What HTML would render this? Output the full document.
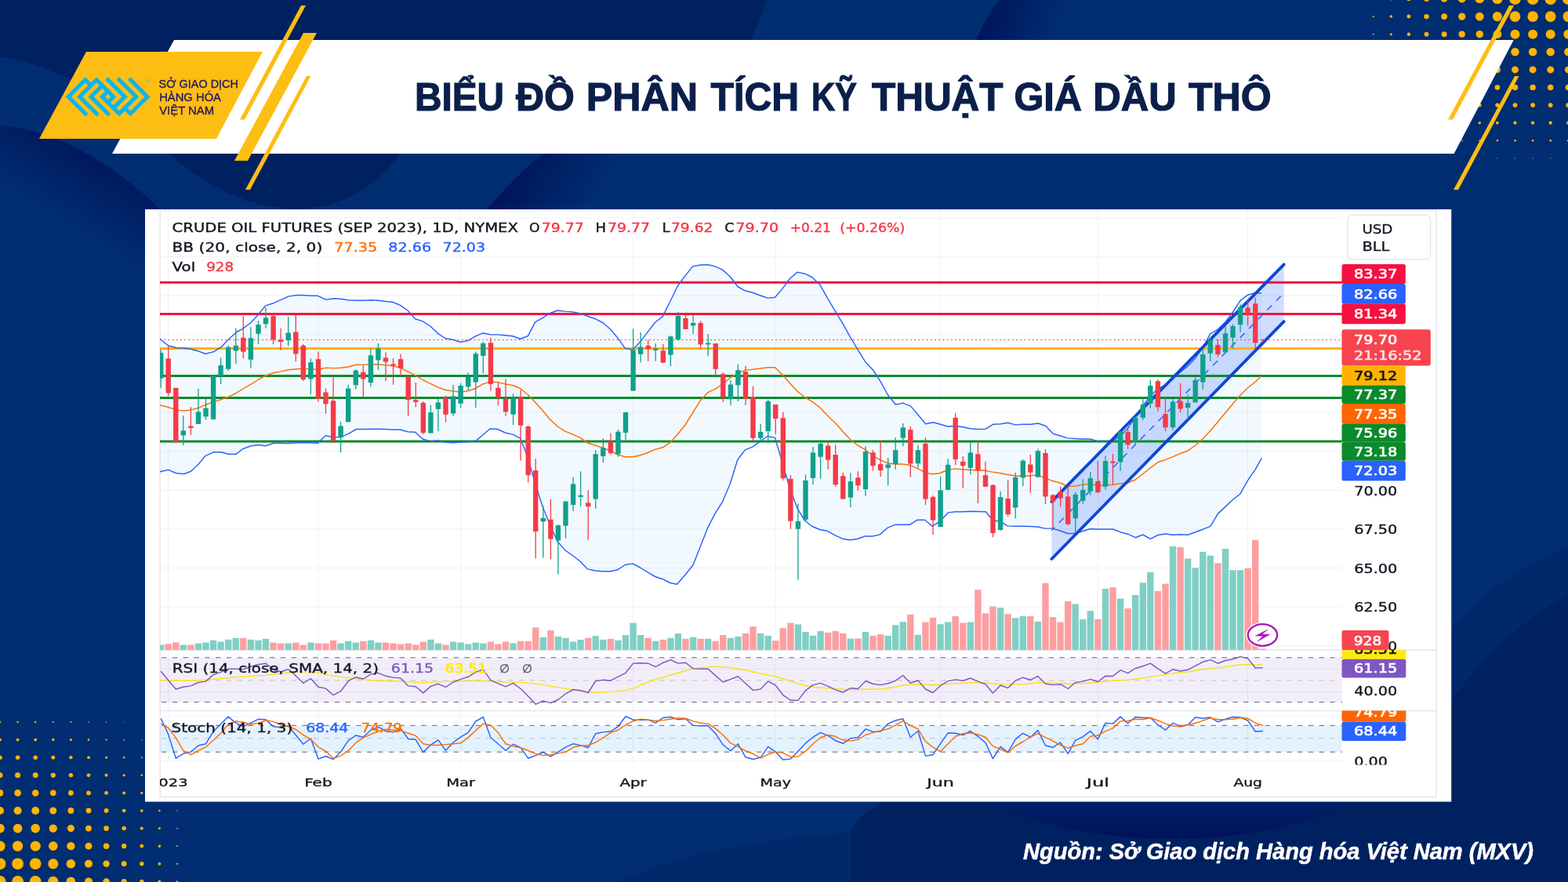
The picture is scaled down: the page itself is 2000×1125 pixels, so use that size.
<!DOCTYPE html>
<html lang="vi">
<head>
<meta charset="utf-8">
<title>Biểu đồ phân tích kỹ thuật giá dầu thô</title>
<style>
html,body{margin:0;padding:0;background:#012d72;}
body{width:2000px;height:1125px;overflow:hidden;}
svg{display:block;}
text{white-space:pre;}
.c{font-family:"DejaVu Sans","Liberation Sans",sans-serif;}
.l{font-family:"Liberation Sans","DejaVu Sans",sans-serif;}
</style>
</head>
<body>
<svg width="2000" height="1125" viewBox="0 0 2000 1125">
<rect width="2000" height="1125" fill="#012d72"/>
<defs>
<linearGradient id="g1" gradientUnits="userSpaceOnUse" x1="140" y1="195" x2="85" y2="285"><stop offset="0" stop-color="#00155c"/><stop offset="1" stop-color="#012d72"/></linearGradient>
<linearGradient id="g2" gradientUnits="userSpaceOnUse" x1="650" y1="225" x2="745" y2="280"><stop offset="0" stop-color="#00155c"/><stop offset="1" stop-color="#012d72"/></linearGradient>
<linearGradient id="g2b" gradientUnits="userSpaceOnUse" x1="1258" y1="20" x2="1345" y2="50"><stop offset="0" stop-color="#00155c"/><stop offset="1" stop-color="#012d72"/></linearGradient>
<linearGradient id="g3" gradientUnits="userSpaceOnUse" x1="0" y1="1072" x2="0" y2="985"><stop offset="0" stop-color="#00115a"/><stop offset="1" stop-color="#012d72"/></linearGradient>
<linearGradient id="g4" gradientUnits="userSpaceOnUse" x1="1900" y1="760" x2="1960" y2="900"><stop offset="0" stop-color="#001a5e"/><stop offset="1" stop-color="#00215f"/></linearGradient>
<clipPath id="cp"><rect x="204" y="268" width="1507.5" height="708"/></clipPath>
<clipPath id="cpa"><rect x="204" y="268" width="1628" height="561.2"/></clipPath>
<clipPath id="cpr"><rect x="204" y="829.2" width="1628" height="77.4"/></clipPath>
<clipPath id="cps"><rect x="204" y="906.6" width="1628" height="69"/></clipPath>
<clipPath id="cpt"><rect x="204" y="976" width="1628" height="40"/></clipPath>
</defs>
<path d="M0,0 H978 C972,18 966,34 958,51 C840,130 640,120 510,196 C470,250 420,268 372,267 C300,262 250,225 215,196 C150,130 80,85 0,72 Z" fill="#00215f"/>
<path d="M0,160 C60,165 130,195 205,268 L205,420 L0,420 Z" fill="url(#g1)"/>
<path d="M618,270 C650,235 670,212 695,196 L900,196 L900,270 Z" fill="url(#g2)"/>
<path d="M1245,51 C1255,30 1262,15 1275,0 L1500,0 L1500,51 Z" fill="url(#g2b)"/>
<path d="M2000,700 C1940,720 1890,760 1851,800 L1851,1022 L1130,1022 C1100,1035 1090,1050 1085,1062 C960,1070 850,1095 790,1125 L2000,1125 Z" fill="#01286a"/>
<path d="M2000,760 C1940,790 1890,840 1851,895 L1851,1022 L1130,1022 C1100,1035 1090,1050 1085,1062 L1085,1125 L2000,1125 Z" fill="#00215f"/>
<path d="M1265,1022 C1380,1086 1610,1086 1725,1022 Z" fill="url(#g3)"/>
<g fill="#ffb400"><circle cx="2000.3" cy="-1.5" r="7.40"/><circle cx="2000.3" cy="21.1" r="6.81"/><circle cx="2000.3" cy="43.7" r="6.04"/><circle cx="2000.3" cy="66.3" r="5.27"/><circle cx="2000.3" cy="88.9" r="4.49"/><circle cx="2000.3" cy="111.5" r="3.72"/><circle cx="2000.3" cy="134.1" r="2.94"/><circle cx="2000.3" cy="156.7" r="2.17"/><circle cx="2000.3" cy="179.3" r="1.39"/><circle cx="2000.3" cy="201.9" r="0.62"/><circle cx="1977.7" cy="-1.5" r="7.40"/><circle cx="1977.7" cy="21.1" r="6.81"/><circle cx="1977.7" cy="43.7" r="6.04"/><circle cx="1977.7" cy="66.3" r="5.27"/><circle cx="1977.7" cy="88.9" r="4.49"/><circle cx="1977.7" cy="111.5" r="3.72"/><circle cx="1977.7" cy="134.1" r="2.94"/><circle cx="1977.7" cy="156.7" r="2.17"/><circle cx="1977.7" cy="179.3" r="1.39"/><circle cx="1977.7" cy="201.9" r="0.62"/><circle cx="1955.1" cy="-1.5" r="7.40"/><circle cx="1955.1" cy="21.1" r="6.81"/><circle cx="1955.1" cy="43.7" r="6.04"/><circle cx="1955.1" cy="66.3" r="5.27"/><circle cx="1955.1" cy="88.9" r="4.49"/><circle cx="1955.1" cy="111.5" r="3.72"/><circle cx="1955.1" cy="134.1" r="2.94"/><circle cx="1955.1" cy="156.7" r="2.17"/><circle cx="1955.1" cy="179.3" r="1.39"/><circle cx="1955.1" cy="201.9" r="0.62"/><circle cx="1932.5" cy="-1.5" r="7.38"/><circle cx="1932.5" cy="21.1" r="6.80"/><circle cx="1932.5" cy="43.7" r="6.03"/><circle cx="1932.5" cy="66.3" r="5.25"/><circle cx="1932.5" cy="88.9" r="4.48"/><circle cx="1932.5" cy="111.5" r="3.71"/><circle cx="1932.5" cy="134.1" r="2.94"/><circle cx="1932.5" cy="156.7" r="2.16"/><circle cx="1932.5" cy="179.3" r="1.39"/><circle cx="1932.5" cy="201.9" r="0.62"/><circle cx="1909.9" cy="-1.5" r="6.60"/><circle cx="1909.9" cy="21.1" r="6.08"/><circle cx="1909.9" cy="43.7" r="5.39"/><circle cx="1909.9" cy="66.3" r="4.70"/><circle cx="1909.9" cy="88.9" r="4.01"/><circle cx="1909.9" cy="111.5" r="3.32"/><circle cx="1909.9" cy="134.1" r="2.63"/><circle cx="1909.9" cy="156.7" r="1.93"/><circle cx="1909.9" cy="179.3" r="1.24"/><circle cx="1909.9" cy="201.9" r="0.55"/><circle cx="1887.3" cy="-1.5" r="5.82"/><circle cx="1887.3" cy="21.1" r="5.36"/><circle cx="1887.3" cy="43.7" r="4.75"/><circle cx="1887.3" cy="66.3" r="4.14"/><circle cx="1887.3" cy="88.9" r="3.53"/><circle cx="1887.3" cy="111.5" r="2.92"/><circle cx="1887.3" cy="134.1" r="2.31"/><circle cx="1887.3" cy="156.7" r="1.71"/><circle cx="1887.3" cy="179.3" r="1.10"/><circle cx="1887.3" cy="201.9" r="0.49"/><circle cx="1864.7" cy="-1.5" r="5.04"/><circle cx="1864.7" cy="21.1" r="4.64"/><circle cx="1864.7" cy="43.7" r="4.11"/><circle cx="1864.7" cy="66.3" r="3.59"/><circle cx="1864.7" cy="88.9" r="3.06"/><circle cx="1864.7" cy="111.5" r="2.53"/><circle cx="1864.7" cy="134.1" r="2.00"/><circle cx="1864.7" cy="156.7" r="1.48"/><circle cx="1864.7" cy="179.3" r="0.95"/><circle cx="1864.7" cy="201.9" r="0.42"/><circle cx="1842.1" cy="-1.5" r="4.26"/><circle cx="1842.1" cy="21.1" r="3.92"/><circle cx="1842.1" cy="43.7" r="3.47"/><circle cx="1842.1" cy="66.3" r="3.03"/><circle cx="1842.1" cy="88.9" r="2.58"/><circle cx="1842.1" cy="111.5" r="2.14"/><circle cx="1842.1" cy="134.1" r="1.69"/><circle cx="1842.1" cy="156.7" r="1.25"/><circle cx="1842.1" cy="179.3" r="0.80"/><circle cx="1842.1" cy="201.9" r="0.36"/><circle cx="1819.5" cy="-1.5" r="3.48"/><circle cx="1819.5" cy="21.1" r="3.20"/><circle cx="1819.5" cy="43.7" r="2.84"/><circle cx="1819.5" cy="66.3" r="2.47"/><circle cx="1819.5" cy="88.9" r="2.11"/><circle cx="1819.5" cy="111.5" r="1.75"/><circle cx="1819.5" cy="134.1" r="1.38"/><circle cx="1819.5" cy="156.7" r="1.02"/><circle cx="1819.5" cy="179.3" r="0.65"/><circle cx="1796.9" cy="-1.5" r="2.69"/><circle cx="1796.9" cy="21.1" r="2.48"/><circle cx="1796.9" cy="43.7" r="2.20"/><circle cx="1796.9" cy="66.3" r="1.92"/><circle cx="1796.9" cy="88.9" r="1.63"/><circle cx="1796.9" cy="111.5" r="1.35"/><circle cx="1796.9" cy="134.1" r="1.07"/><circle cx="1796.9" cy="156.7" r="0.79"/><circle cx="1796.9" cy="179.3" r="0.51"/><circle cx="1774.3" cy="-1.5" r="1.91"/><circle cx="1774.3" cy="21.1" r="1.76"/><circle cx="1774.3" cy="43.7" r="1.56"/><circle cx="1774.3" cy="66.3" r="1.36"/><circle cx="1774.3" cy="88.9" r="1.16"/><circle cx="1774.3" cy="111.5" r="0.96"/><circle cx="1774.3" cy="134.1" r="0.76"/><circle cx="1774.3" cy="156.7" r="0.56"/><circle cx="1774.3" cy="179.3" r="0.36"/><circle cx="1751.7" cy="-1.5" r="1.13"/><circle cx="1751.7" cy="21.1" r="1.04"/><circle cx="1751.7" cy="43.7" r="0.92"/><circle cx="1751.7" cy="66.3" r="0.80"/><circle cx="1751.7" cy="88.9" r="0.69"/><circle cx="1751.7" cy="111.5" r="0.57"/><circle cx="1751.7" cy="134.1" r="0.45"/><circle cx="1751.7" cy="156.7" r="0.33"/><circle cx="1729.1" cy="-1.5" r="0.35"/><circle cx="1729.1" cy="21.1" r="0.32"/><circle cx="0" cy="1124.4" r="7.40"/><circle cx="0" cy="1101.8" r="7.39"/><circle cx="0" cy="1079.2" r="6.62"/><circle cx="0" cy="1056.6" r="5.84"/><circle cx="0" cy="1034" r="5.07"/><circle cx="0" cy="1011.4" r="4.30"/><circle cx="0" cy="988.8" r="3.52"/><circle cx="0" cy="966.2" r="2.75"/><circle cx="0" cy="943.6" r="1.97"/><circle cx="0" cy="921" r="1.20"/><circle cx="0" cy="898.4" r="0.42"/><circle cx="22.6" cy="1124.4" r="7.40"/><circle cx="22.6" cy="1101.8" r="7.39"/><circle cx="22.6" cy="1079.2" r="6.62"/><circle cx="22.6" cy="1056.6" r="5.84"/><circle cx="22.6" cy="1034" r="5.07"/><circle cx="22.6" cy="1011.4" r="4.30"/><circle cx="22.6" cy="988.8" r="3.52"/><circle cx="22.6" cy="966.2" r="2.75"/><circle cx="22.6" cy="943.6" r="1.97"/><circle cx="22.6" cy="921" r="1.20"/><circle cx="22.6" cy="898.4" r="0.42"/><circle cx="45.2" cy="1124.4" r="7.32"/><circle cx="45.2" cy="1101.8" r="7.32"/><circle cx="45.2" cy="1079.2" r="6.55"/><circle cx="45.2" cy="1056.6" r="5.79"/><circle cx="45.2" cy="1034" r="5.02"/><circle cx="45.2" cy="1011.4" r="4.25"/><circle cx="45.2" cy="988.8" r="3.49"/><circle cx="45.2" cy="966.2" r="2.72"/><circle cx="45.2" cy="943.6" r="1.95"/><circle cx="45.2" cy="921" r="1.19"/><circle cx="45.2" cy="898.4" r="0.42"/><circle cx="67.8" cy="1124.4" r="6.55"/><circle cx="67.8" cy="1101.8" r="6.54"/><circle cx="67.8" cy="1079.2" r="5.86"/><circle cx="67.8" cy="1056.6" r="5.17"/><circle cx="67.8" cy="1034" r="4.49"/><circle cx="67.8" cy="1011.4" r="3.80"/><circle cx="67.8" cy="988.8" r="3.12"/><circle cx="67.8" cy="966.2" r="2.43"/><circle cx="67.8" cy="943.6" r="1.75"/><circle cx="67.8" cy="921" r="1.06"/><circle cx="67.8" cy="898.4" r="0.38"/><circle cx="90.4" cy="1124.4" r="5.78"/><circle cx="90.4" cy="1101.8" r="5.77"/><circle cx="90.4" cy="1079.2" r="5.17"/><circle cx="90.4" cy="1056.6" r="4.56"/><circle cx="90.4" cy="1034" r="3.96"/><circle cx="90.4" cy="1011.4" r="3.35"/><circle cx="90.4" cy="988.8" r="2.75"/><circle cx="90.4" cy="966.2" r="2.14"/><circle cx="90.4" cy="943.6" r="1.54"/><circle cx="90.4" cy="921" r="0.94"/><circle cx="90.4" cy="898.4" r="0.33"/><circle cx="113" cy="1124.4" r="5.00"/><circle cx="113" cy="1101.8" r="5.00"/><circle cx="113" cy="1079.2" r="4.47"/><circle cx="113" cy="1056.6" r="3.95"/><circle cx="113" cy="1034" r="3.43"/><circle cx="113" cy="1011.4" r="2.90"/><circle cx="113" cy="988.8" r="2.38"/><circle cx="113" cy="966.2" r="1.86"/><circle cx="113" cy="943.6" r="1.33"/><circle cx="113" cy="921" r="0.81"/><circle cx="135.6" cy="1124.4" r="4.23"/><circle cx="135.6" cy="1101.8" r="4.22"/><circle cx="135.6" cy="1079.2" r="3.78"/><circle cx="135.6" cy="1056.6" r="3.34"/><circle cx="135.6" cy="1034" r="2.90"/><circle cx="135.6" cy="1011.4" r="2.45"/><circle cx="135.6" cy="988.8" r="2.01"/><circle cx="135.6" cy="966.2" r="1.57"/><circle cx="135.6" cy="943.6" r="1.13"/><circle cx="135.6" cy="921" r="0.69"/><circle cx="158.2" cy="1124.4" r="3.45"/><circle cx="158.2" cy="1101.8" r="3.45"/><circle cx="158.2" cy="1079.2" r="3.09"/><circle cx="158.2" cy="1056.6" r="2.73"/><circle cx="158.2" cy="1034" r="2.37"/><circle cx="158.2" cy="1011.4" r="2.00"/><circle cx="158.2" cy="988.8" r="1.64"/><circle cx="158.2" cy="966.2" r="1.28"/><circle cx="158.2" cy="943.6" r="0.92"/><circle cx="158.2" cy="921" r="0.56"/><circle cx="180.8" cy="1124.4" r="2.68"/><circle cx="180.8" cy="1101.8" r="2.68"/><circle cx="180.8" cy="1079.2" r="2.40"/><circle cx="180.8" cy="1056.6" r="2.12"/><circle cx="180.8" cy="1034" r="1.84"/><circle cx="180.8" cy="1011.4" r="1.56"/><circle cx="180.8" cy="988.8" r="1.28"/><circle cx="180.8" cy="966.2" r="0.99"/><circle cx="180.8" cy="943.6" r="0.71"/><circle cx="180.8" cy="921" r="0.43"/><circle cx="203.4" cy="1124.4" r="1.90"/><circle cx="203.4" cy="1101.8" r="1.90"/><circle cx="203.4" cy="1079.2" r="1.70"/><circle cx="203.4" cy="1056.6" r="1.50"/><circle cx="203.4" cy="1034" r="1.31"/><circle cx="203.4" cy="1011.4" r="1.11"/><circle cx="203.4" cy="988.8" r="0.91"/><circle cx="203.4" cy="966.2" r="0.71"/><circle cx="203.4" cy="943.6" r="0.51"/><circle cx="203.4" cy="921" r="0.31"/><circle cx="226" cy="1124.4" r="1.13"/><circle cx="226" cy="1101.8" r="1.13"/><circle cx="226" cy="1079.2" r="1.01"/><circle cx="226" cy="1056.6" r="0.89"/><circle cx="226" cy="1034" r="0.77"/><circle cx="226" cy="1011.4" r="0.66"/><circle cx="226" cy="988.8" r="0.54"/><circle cx="226" cy="966.2" r="0.42"/><circle cx="226" cy="943.6" r="0.30"/><circle cx="248.6" cy="1124.4" r="0.36"/><circle cx="248.6" cy="1101.8" r="0.36"/><circle cx="248.6" cy="1079.2" r="0.32"/></g>
<polygon points="222,51 1930.7,51 1854.6,196 143,196" fill="#fff"/>
<polygon points="110,66 335,66 276,177 50,177" fill="#fdbe13"/>
<g fill="#fdbe13">
<polygon points="384,7 390,7 312,152.5 306,152.5"/>
<polygon points="387,42 404,42 316,205 299,205"/>
<polygon points="391,97 396.5,97 319,242 313,242"/>
<polygon points="1925,7 1931,7 1853,152.5 1847,152.5"/>
<polygon points="1932,97 1937.5,97 1860,242 1854,242"/>
</g>
<g fill="none" stroke="#0ab4f0" stroke-width="5.1" stroke-linecap="square" stroke-linejoin="miter">
<polyline points="108.8,145 87.2,123.4 108.8,101.8 116,109"/>
<polyline points="166.4,101.8 188,123.4 166.4,145 159.2,137.8"/>
<polyline points="123.2,145 101.6,123.4 123.2,101.8 144.8,123.4 137.6,130.6"/>
<polyline points="152,101.8 173.6,123.4 152,145 130.4,123.4 137.6,116.2"/>
<polyline points="137.6,145 116,123.4 130.4,109"/>
<polyline points="137.6,101.8 159.2,123.4 144.8,137.8"/>
</g>
<text x="184.6" y="105.4" font-size="4.6" fill="#8cc09a" class="l" font-weight="bold">TM</text>
<text class="l" x="202.60" y="111.5" font-size="14.9" fill="#2a1a5c" stroke="#2a1a5c" stroke-width="0.4" textLength="101.30" lengthAdjust="spacingAndGlyphs">SỞ GIAO DỊCH</text>
<text class="l" x="203.20" y="128.6" font-size="14.9" fill="#2a1a5c" stroke="#2a1a5c" stroke-width="0.4" textLength="78.80" lengthAdjust="spacingAndGlyphs">HÀNG HÓA</text>
<text class="l" x="203.20" y="145.5" font-size="14.9" fill="#2a1a5c" stroke="#2a1a5c" stroke-width="0.4" textLength="70.00" lengthAdjust="spacingAndGlyphs">VIỆT NAM</text>
<text class="l" x="528.90" y="140.8" font-size="50.4" fill="#0b1f4b" stroke="#0b1f4b" stroke-width="1.2" textLength="114.20" lengthAdjust="spacingAndGlyphs" font-weight="bold">BIỂU</text>
<text class="l" x="658.00" y="140.8" font-size="50.4" fill="#0b1f4b" stroke="#0b1f4b" stroke-width="1.2" textLength="75.04" lengthAdjust="spacingAndGlyphs" font-weight="bold">ĐỒ</text>
<text class="l" x="747.86" y="140.8" font-size="50.4" fill="#0b1f4b" stroke="#0b1f4b" stroke-width="1.2" textLength="142.25" lengthAdjust="spacingAndGlyphs" font-weight="bold">PHÂN</text>
<text class="l" x="906.50" y="140.8" font-size="50.4" fill="#0b1f4b" stroke="#0b1f4b" stroke-width="1.2" textLength="112.56" lengthAdjust="spacingAndGlyphs" font-weight="bold">TÍCH</text>
<text class="l" x="1034.92" y="140.8" font-size="50.4" fill="#0b1f4b" stroke="#0b1f4b" stroke-width="1.2" textLength="58.08" lengthAdjust="spacingAndGlyphs" font-weight="bold">KỸ</text>
<text class="l" x="1112.00" y="140.8" font-size="50.4" fill="#0b1f4b" stroke="#0b1f4b" stroke-width="1.2" textLength="167.50" lengthAdjust="spacingAndGlyphs" font-weight="bold">THUẬT</text>
<text class="l" x="1293.47" y="140.8" font-size="50.4" fill="#0b1f4b" stroke="#0b1f4b" stroke-width="1.2" textLength="86.55" lengthAdjust="spacingAndGlyphs" font-weight="bold">GIÁ</text>
<text class="l" x="1394.35" y="140.8" font-size="50.4" fill="#0b1f4b" stroke="#0b1f4b" stroke-width="1.2" textLength="106.27" lengthAdjust="spacingAndGlyphs" font-weight="bold">DẦU</text>
<text class="l" x="1516.00" y="140.8" font-size="50.4" fill="#0b1f4b" stroke="#0b1f4b" stroke-width="1.2" textLength="105.53" lengthAdjust="spacingAndGlyphs" font-weight="bold">THÔ</text>
<rect x="185" y="267" width="1666.2" height="755.6" fill="#fff"/>
<rect x="204.2" y="268.4" width="1628" height="748" fill="none" stroke="#e9ebf0" stroke-width="1.9"/>
<path d="M204,278.1 H1712 M204,327.7 H1712 M204,377.3 H1712 M204,426.9 H1712 M204,476.5 H1712 M204,526.1 H1712 M204,575.7 H1712 M204,625.3 H1712 M204,674.9 H1712 M204,724.5 H1712 M204,774.1 H1712 M204,823.7 H1712 M204,853.3 H1712 M204,882.4 H1712 M204,914 H1712 M204,970.4 H1712 M214.7,268 V975.5 M406,268 V975.5 M587.6,268 V975.5 M807.6,268 V975.5 M989.2,268 V975.5 M1199.6,268 V975.5 M1400.4,268 V975.5 M1591.6,268 V975.5" stroke="#eff1f5" stroke-width="1" fill="none"/>
<path d="M204,829.2 H1832 M204,906.6 H1832" stroke="#dfe2ea" stroke-width="1.2" fill="none"/>
<g clip-path="url(#cpa)">
<polygon points="204,432 203.7,432 214.4,440.8 224.5,443.5 234.7,444 243.5,445.3 253.3,448 262.1,451.2 272.3,448.8 282.1,442.7 291.2,433.3 301.1,424 309.9,419.2 320,411.5 329.9,400.8 338.7,389.9 348.8,386.7 357.9,382.7 367.7,378.1 377.9,376.5 386.7,376.5 396.8,377.3 405.3,377.3 415.5,382.1 425.6,380.8 434.4,381.3 444.3,382.7 454.4,383.2 463.5,383.2 473.3,382.7 482.1,383.2 492.3,384.5 500.7,385.3 510.5,389.3 520.1,396 529.7,406.7 539.3,409.9 548.9,416 558.5,425.3 567.9,431.5 577.5,433.3 587.1,436.3 596.7,434.7 606.3,428.8 615.9,424.8 625.2,426.7 634.8,426.9 644.4,427.7 654,428.8 663.6,432.3 673.2,428.8 682.8,410.7 692.4,405.3 702,399.2 711.3,396 720.9,397.1 730.8,397.9 740.7,400 750,403.5 759.3,406.7 769.5,412 778.5,420 787.7,430.8 797.3,444.1 806.9,446.3 816.5,436.1 825.9,423.9 835.5,411.3 845.1,403.9 854.7,384.7 864.3,364.7 873.9,351.9 883.5,339.9 893.1,338 902.7,337.5 912.3,339.9 921.6,344.1 931.2,352.7 940.8,365.5 950.4,370.8 960,373.2 969.3,376.7 978.9,380.1 988.5,379.3 998.1,368.1 1007.5,355.3 1017.1,347.1 1026.7,349.2 1036.3,354 1045.9,363.3 1056.1,381.3 1065.7,397.3 1075.3,413.3 1084.9,430.7 1094.5,446.7 1104.1,462.1 1113.7,472 1123.1,486.7 1132.7,504 1142.3,516 1151.9,514.1 1161.5,517.9 1171.1,529.3 1180.7,540.8 1190.3,538.7 1199.6,541.3 1209.2,544 1218.8,543.2 1228.4,544.8 1238,546.7 1247.6,547.5 1257.2,547.2 1266.5,541.3 1276.1,540.8 1285.7,539.2 1295.3,541.9 1304.9,541.3 1314.5,541.3 1324.1,540 1333.7,543.2 1343.3,553.3 1352.8,556 1361.6,558.9 1371.5,559.5 1381.6,560 1390.7,560 1400.4,562.9 1410,562.9 1419.6,562.3 1429,555.9 1438.6,546.3 1448.2,531.3 1457.8,517.5 1467.4,504.7 1476.8,496.1 1486.4,490.8 1496,483.3 1505.6,474.8 1515.2,466.9 1524.8,456.7 1534.4,442.8 1543.8,425.7 1553.4,420 1563,410.8 1572.6,398 1582.2,383.1 1591.6,376.2 1601.2,373.5 1609.2,373.9 1609.2,584.4 1601.3,598.6 1591.8,612.3 1582.1,629.7 1572.6,637.2 1562.9,646.4 1553.5,655.1 1543.8,671.3 1534.3,675.2 1524.6,678.7 1515.1,682.2 1505.7,681.7 1496,682.2 1486.5,681 1476.8,682.5 1467.4,687.4 1457.7,682 1448.2,685.7 1438.7,681.2 1429,678.7 1419.6,675 1409.9,675 1400.4,675 1390.7,674.5 1371.5,680.5 1361.6,680.5 1352.8,677.3 1342.7,674.1 1332.8,674.1 1324,672 1313.9,671.5 1304.8,671.2 1294.9,671.2 1285.1,670.9 1276,665.3 1266.1,663.5 1257.3,652.8 1247.2,652.5 1237.3,652.3 1228.3,652.8 1218.4,652.8 1209.3,653.9 1198.5,665.3 1189.2,671.2 1179.6,663.2 1170,663.2 1160.4,669.3 1150.8,669.3 1141.5,669.3 1131.9,673.3 1122.3,681.9 1112.7,684 1103.1,684 1093.5,687.5 1084.1,688.8 1074.5,687.2 1064.9,682.7 1055.3,677.3 1045.7,675.5 1036.1,671.5 1026.5,664 1017.2,648.8 1007.6,623.5 998,590.7 988.4,558.1 978.8,556.5 969.2,563.5 959.6,570.1 950.3,573.9 940.7,586.7 931.2,617.3 921.6,640 912,655.2 902.7,673.3 893.3,697.3 884,720.8 873.9,733.3 863.5,745.3 854.9,743.5 845.3,738.7 835.7,735.5 826.1,729.9 816.5,724 806.9,718.9 797.3,720.5 788,726.7 778.4,728.8 768.8,728.8 759.2,728 749.6,725.9 740,716 730.4,708.5 720.8,701.9 711.2,690.7 701.9,670.7 692.3,646.7 682.7,617.3 673.1,582.7 663.6,559.2 654,554.1 644.4,552 634.8,547.5 625.2,546.7 615.9,554.7 606.3,562.9 596.7,563.5 587.1,564 577.5,564.8 567.9,564 558.5,561.9 548.9,562.9 539.3,560 529.7,551.2 520.1,550.7 510.5,548 500.7,548 492.3,547.5 482.1,547.2 473.3,547.2 463.5,547.5 454.4,547.5 444.3,553.3 434.4,557.3 425.6,558.1 415.5,555.5 405.3,565.3 396.8,564.8 386.7,564.8 377.9,564.8 367.7,565.6 357.9,565.3 348.8,565.3 338.7,568.8 329.9,567.5 320,568.8 309.9,572.5 301.1,579.2 291.2,579.2 282.1,576.8 272.3,576.8 262.1,581.3 253.3,592 243.5,601.3 234.7,604.5 224.5,603.5 214.4,599.2 203.7,601.9 204,601.9" fill="#2196f3" fill-opacity="0.06"/>
<polygon points="1341.3,639.8 1637.6,337.3 1637.6,410.1 1341.3,713" fill="#2962ff" fill-opacity="0.22"/>
<path d="M204,360.3 H1712 M204,400.5 H1712" stroke="#f5113f" stroke-width="3" fill="none"/>
<path d="M204,444.5 H1712" stroke="#ffb300" stroke-width="3" fill="none"/>
<path d="M204,479.4 H1712 M204,507.4 H1712 M204,563.1 H1712" stroke="#0b8a2b" stroke-width="3" fill="none"/>
<path d="M204,433.4 H1712" stroke="#f23645" stroke-width="1" stroke-dasharray="2 3.2" fill="none"/>
<g fill="#80cfc5"><rect x="201" y="822.5" width="8.4" height="6.7"/><rect x="229.6" y="822.5" width="8.4" height="6.7"/><rect x="248.8" y="820.6" width="8.4" height="8.6"/><rect x="258.3" y="819.6" width="8.4" height="9.6"/><rect x="267.9" y="816.7" width="8.4" height="12.5"/><rect x="277.4" y="818.6" width="8.4" height="10.6"/><rect x="287" y="815.8" width="8.4" height="13.4"/><rect x="296.6" y="813.8" width="8.4" height="15.4"/><rect x="315.7" y="815.8" width="8.4" height="13.4"/><rect x="325.3" y="816.7" width="8.4" height="12.5"/><rect x="334.8" y="814.8" width="8.4" height="14.4"/><rect x="363.5" y="820.6" width="8.4" height="8.6"/><rect x="392.2" y="819.6" width="8.4" height="9.6"/><rect x="430.4" y="820.6" width="8.4" height="8.6"/><rect x="440" y="817.7" width="8.4" height="11.5"/><rect x="449.6" y="819.6" width="8.4" height="9.6"/><rect x="468.7" y="816.7" width="8.4" height="12.5"/><rect x="478.2" y="819.6" width="8.4" height="9.6"/><rect x="545.2" y="815.8" width="8.4" height="13.4"/><rect x="554.7" y="820.6" width="8.4" height="8.6"/><rect x="573.9" y="818.6" width="8.4" height="10.6"/><rect x="583.4" y="819.6" width="8.4" height="9.6"/><rect x="593" y="821.5" width="8.4" height="7.7"/><rect x="602.6" y="819.6" width="8.4" height="9.6"/><rect x="612.1" y="820.6" width="8.4" height="8.6"/><rect x="650.4" y="820.4" width="8.4" height="8.8"/><rect x="688.6" y="812.7" width="8.4" height="16.5"/><rect x="707.7" y="811.9" width="8.4" height="17.3"/><rect x="717.3" y="813.7" width="8.4" height="15.5"/><rect x="726.9" y="818.5" width="8.4" height="10.7"/><rect x="736.4" y="815.9" width="8.4" height="13.3"/><rect x="755.5" y="811.1" width="8.4" height="18.1"/><rect x="765.1" y="815.9" width="8.4" height="13.3"/><rect x="784.2" y="816.7" width="8.4" height="12.5"/><rect x="793.8" y="810" width="8.4" height="19.2"/><rect x="803.4" y="794.5" width="8.4" height="34.7"/><rect x="812.9" y="810" width="8.4" height="19.2"/><rect x="832" y="817.7" width="8.4" height="11.5"/><rect x="851.2" y="813.7" width="8.4" height="15.5"/><rect x="860.7" y="808.1" width="8.4" height="21.1"/><rect x="879.9" y="812.7" width="8.4" height="16.5"/><rect x="899" y="814.8" width="8.4" height="14.4"/><rect x="927.7" y="813.7" width="8.4" height="15.5"/><rect x="937.2" y="811.9" width="8.4" height="17.3"/><rect x="965.9" y="807.9" width="8.4" height="21.3"/><rect x="975.5" y="810.8" width="8.4" height="18.4"/><rect x="1013.7" y="796.4" width="8.4" height="32.8"/><rect x="1023.3" y="806" width="8.4" height="23.2"/><rect x="1032.8" y="810.8" width="8.4" height="18.4"/><rect x="1042.4" y="804.9" width="8.4" height="24.3"/><rect x="1080.7" y="814.5" width="8.4" height="14.7"/><rect x="1099.8" y="806" width="8.4" height="23.2"/><rect x="1128.5" y="810.8" width="8.4" height="18.4"/><rect x="1138" y="797.2" width="8.4" height="32"/><rect x="1147.6" y="793.2" width="8.4" height="36"/><rect x="1166.7" y="809.7" width="8.4" height="19.5"/><rect x="1195.4" y="796.2" width="8.4" height="33"/><rect x="1205" y="793.5" width="8.4" height="35.7"/><rect x="1233.6" y="793.5" width="8.4" height="35.7"/><rect x="1271.9" y="775.2" width="8.4" height="54"/><rect x="1291" y="788.3" width="8.4" height="40.9"/><rect x="1300.6" y="786" width="8.4" height="43.2"/><rect x="1319.7" y="792.9" width="8.4" height="36.3"/><rect x="1367.5" y="770.5" width="8.4" height="58.7"/><rect x="1377.1" y="789.8" width="8.4" height="39.4"/><rect x="1386.6" y="779.2" width="8.4" height="50"/><rect x="1405.8" y="751" width="8.4" height="78.2"/><rect x="1424.9" y="763.5" width="8.4" height="65.7"/><rect x="1444" y="759" width="8.4" height="70.2"/><rect x="1453.6" y="743.3" width="8.4" height="85.9"/><rect x="1463.1" y="729.9" width="8.4" height="99.3"/><rect x="1491.8" y="696.8" width="8.4" height="132.4"/><rect x="1510.9" y="712.5" width="8.4" height="116.7"/><rect x="1520.5" y="724.2" width="8.4" height="105"/><rect x="1530.1" y="703.8" width="8.4" height="125.4"/><rect x="1539.6" y="708.7" width="8.4" height="120.5"/><rect x="1558.8" y="700" width="8.4" height="129.2"/><rect x="1568.3" y="727.2" width="8.4" height="102"/><rect x="1577.9" y="727.2" width="8.4" height="102"/></g>
<g fill="#fd9fa1"><rect x="210.5" y="821.3" width="8.4" height="7.9"/><rect x="220.1" y="819.4" width="8.4" height="9.8"/><rect x="239.2" y="822.5" width="8.4" height="6.7"/><rect x="306.1" y="813.8" width="8.4" height="15.4"/><rect x="344.4" y="819.6" width="8.4" height="9.6"/><rect x="353.9" y="820.6" width="8.4" height="8.6"/><rect x="373.1" y="819.6" width="8.4" height="9.6"/><rect x="382.6" y="822.5" width="8.4" height="6.7"/><rect x="401.8" y="820.6" width="8.4" height="8.6"/><rect x="411.3" y="820.6" width="8.4" height="8.6"/><rect x="420.9" y="816.7" width="8.4" height="12.5"/><rect x="459.1" y="817.7" width="8.4" height="11.5"/><rect x="487.8" y="819.6" width="8.4" height="9.6"/><rect x="497.4" y="820.6" width="8.4" height="8.6"/><rect x="506.9" y="821.5" width="8.4" height="7.7"/><rect x="516.5" y="820.6" width="8.4" height="8.6"/><rect x="526.1" y="822.5" width="8.4" height="6.7"/><rect x="535.6" y="818.6" width="8.4" height="10.6"/><rect x="564.3" y="822.5" width="8.4" height="6.7"/><rect x="621.7" y="818.6" width="8.4" height="10.6"/><rect x="631.2" y="821.5" width="8.4" height="7.7"/><rect x="640.8" y="818.5" width="8.4" height="10.7"/><rect x="659.9" y="817.7" width="8.4" height="11.5"/><rect x="669.5" y="817.7" width="8.4" height="11.5"/><rect x="679" y="800.4" width="8.4" height="28.8"/><rect x="698.2" y="804.1" width="8.4" height="25.1"/><rect x="746" y="813.7" width="8.4" height="15.5"/><rect x="774.7" y="814.8" width="8.4" height="14.4"/><rect x="822.5" y="813.7" width="8.4" height="15.5"/><rect x="841.6" y="815.9" width="8.4" height="13.3"/><rect x="870.3" y="814.8" width="8.4" height="14.4"/><rect x="889.4" y="814.8" width="8.4" height="14.4"/><rect x="908.5" y="817.7" width="8.4" height="11.5"/><rect x="918.1" y="810" width="8.4" height="19.2"/><rect x="946.8" y="807.9" width="8.4" height="21.3"/><rect x="956.3" y="799.1" width="8.4" height="30.1"/><rect x="985" y="817.2" width="8.4" height="12"/><rect x="994.6" y="801.2" width="8.4" height="28"/><rect x="1004.2" y="794.5" width="8.4" height="34.7"/><rect x="1052" y="806.8" width="8.4" height="22.4"/><rect x="1061.5" y="804.9" width="8.4" height="24.3"/><rect x="1071.1" y="807.9" width="8.4" height="21.3"/><rect x="1090.2" y="814.5" width="8.4" height="14.7"/><rect x="1109.3" y="810.8" width="8.4" height="18.4"/><rect x="1118.9" y="808.9" width="8.4" height="20.3"/><rect x="1157.1" y="783.9" width="8.4" height="45.3"/><rect x="1176.3" y="793.5" width="8.4" height="35.7"/><rect x="1185.8" y="787.9" width="8.4" height="41.3"/><rect x="1214.5" y="786" width="8.4" height="43.2"/><rect x="1224.1" y="794.5" width="8.4" height="34.7"/><rect x="1243.2" y="752.2" width="8.4" height="77"/><rect x="1252.8" y="782.3" width="8.4" height="46.9"/><rect x="1262.3" y="773.6" width="8.4" height="55.6"/><rect x="1281.5" y="783.2" width="8.4" height="46"/><rect x="1310.1" y="786" width="8.4" height="43.2"/><rect x="1329.3" y="743.8" width="8.4" height="85.4"/><rect x="1338.8" y="787" width="8.4" height="42.2"/><rect x="1348.4" y="793.5" width="8.4" height="35.7"/><rect x="1358" y="767" width="8.4" height="62.2"/><rect x="1396.2" y="789.8" width="8.4" height="39.4"/><rect x="1415.3" y="749.1" width="8.4" height="80.1"/><rect x="1434.4" y="775.9" width="8.4" height="53.3"/><rect x="1472.7" y="754" width="8.4" height="75.2"/><rect x="1482.3" y="744.6" width="8.4" height="84.6"/><rect x="1501.4" y="698" width="8.4" height="131.2"/><rect x="1549.2" y="718.4" width="8.4" height="110.8"/><rect x="1587.4" y="724.9" width="8.4" height="104.3"/><rect x="1597" y="688.6" width="8.4" height="140.6"/><rect x="1606.6" y="827.5" width="8.4" height="1.7"/></g>
<polyline points="204,516.8 203.7,516.8 214.4,519.2 224.5,522.9 234.7,524 243.5,522.9 253.3,520.3 262.1,516.3 272.3,512.8 282.1,509.6 291.2,506.4 301.1,501.3 309.9,496 320,490.1 329.9,484 338.7,479.2 348.8,475.5 357.9,473.9 367.7,471.7 377.9,470.7 386.7,470.4 396.8,470.9 405.3,471.2 415.5,469.1 425.6,469.6 434.4,469.3 444.3,468 454.4,465.3 463.5,465.1 473.3,464.8 482.1,464.8 492.3,465.9 500.7,466.7 510.5,468.8 520.1,474.1 529.7,478.7 539.3,484.5 548.9,489.3 558.5,493.9 567.9,497.3 577.5,498.9 587.1,500 596.7,498.7 606.3,495.5 615.9,489.9 625.2,486.9 634.8,487.5 644.4,489.9 654,491.5 663.6,495.5 673.2,503.2 682.8,513.3 692.4,524 702,535.5 711.3,544 720.9,550.1 730.8,554.1 740.7,558.7 750,565.3 759.3,568 769.5,571.5 778.5,574.7 787.7,579.9 797.3,582.8 806.9,582.8 816.5,580.7 825.9,577.5 835.5,573.2 845.1,570.8 854.7,564.7 864.3,554 873.9,542 883.5,526.5 893.1,511.3 902.7,500.7 912.3,496.1 921.6,490 931.2,482 940.8,476.1 950.4,472.1 960,471.3 969.3,470 978.9,468.7 988.5,468.7 998.1,478 1007.5,488.7 1017.1,499.3 1026.7,506.8 1036.3,512.7 1045.9,519.9 1056.1,530.7 1066,540 1075.3,550.7 1085.2,561.3 1094,568 1103.3,573.3 1113.2,581.3 1122.5,586.7 1132.1,590.7 1142,592 1151.3,592 1160.7,593.3 1170,597.3 1179.9,602.7 1189.2,604.8 1198.8,603.5 1208.7,599.5 1218,597.9 1227.3,598.7 1236.7,599.2 1246,600 1255.3,600 1264.7,601.9 1274,603.2 1284.7,605.3 1294,606.7 1303.3,607.2 1314,606.7 1323.3,606.1 1332.7,609.3 1342,613.3 1352.8,616 1361.6,620.5 1371.5,620 1381.6,618.1 1390.7,617.3 1400.5,619.2 1409.3,619.2 1419.5,618.1 1429.3,616.8 1438.1,616 1448,612 1457.3,604.8 1467.2,596.8 1477.3,589.3 1485.9,586.7 1496,582.7 1504.8,578.7 1514.7,575.2 1524.8,568 1533.9,560 1544,549.3 1552.8,538.7 1562.7,526.7 1572.8,514.7 1581.6,504.5 1591.5,494.7 1601.6,486.7 1609.2,479.2" fill="none" stroke="#ff6d00" stroke-width="1.45" stroke-linejoin="round"/>
<polyline points="204,432 203.7,432 214.4,440.8 224.5,443.5 234.7,444 243.5,445.3 253.3,448 262.1,451.2 272.3,448.8 282.1,442.7 291.2,433.3 301.1,424 309.9,419.2 320,411.5 329.9,400.8 338.7,389.9 348.8,386.7 357.9,382.7 367.7,378.1 377.9,376.5 386.7,376.5 396.8,377.3 405.3,377.3 415.5,382.1 425.6,380.8 434.4,381.3 444.3,382.7 454.4,383.2 463.5,383.2 473.3,382.7 482.1,383.2 492.3,384.5 500.7,385.3 510.5,389.3 520.1,396 529.7,406.7 539.3,409.9 548.9,416 558.5,425.3 567.9,431.5 577.5,433.3 587.1,436.3 596.7,434.7 606.3,428.8 615.9,424.8 625.2,426.7 634.8,426.9 644.4,427.7 654,428.8 663.6,432.3 673.2,428.8 682.8,410.7 692.4,405.3 702,399.2 711.3,396 720.9,397.1 730.8,397.9 740.7,400 750,403.5 759.3,406.7 769.5,412 778.5,420 787.7,430.8 797.3,444.1 806.9,446.3 816.5,436.1 825.9,423.9 835.5,411.3 845.1,403.9 854.7,384.7 864.3,364.7 873.9,351.9 883.5,339.9 893.1,338 902.7,337.5 912.3,339.9 921.6,344.1 931.2,352.7 940.8,365.5 950.4,370.8 960,373.2 969.3,376.7 978.9,380.1 988.5,379.3 998.1,368.1 1007.5,355.3 1017.1,347.1 1026.7,349.2 1036.3,354 1045.9,363.3 1056.1,381.3 1065.7,397.3 1075.3,413.3 1084.9,430.7 1094.5,446.7 1104.1,462.1 1113.7,472 1123.1,486.7 1132.7,504 1142.3,516 1151.9,514.1 1161.5,517.9 1171.1,529.3 1180.7,540.8 1190.3,538.7 1199.6,541.3 1209.2,544 1218.8,543.2 1228.4,544.8 1238,546.7 1247.6,547.5 1257.2,547.2 1266.5,541.3 1276.1,540.8 1285.7,539.2 1295.3,541.9 1304.9,541.3 1314.5,541.3 1324.1,540 1333.7,543.2 1343.3,553.3 1352.8,556 1361.6,558.9 1371.5,559.5 1381.6,560 1390.7,560 1400.4,562.9 1410,562.9 1419.6,562.3 1429,555.9 1438.6,546.3 1448.2,531.3 1457.8,517.5 1467.4,504.7 1476.8,496.1 1486.4,490.8 1496,483.3 1505.6,474.8 1515.2,466.9 1524.8,456.7 1534.4,442.8 1543.8,425.7 1553.4,420 1563,410.8 1572.6,398 1582.2,383.1 1591.6,376.2 1601.2,373.5 1609.2,373.9" fill="none" stroke="#2962ff" stroke-width="1.45" stroke-linejoin="round"/>
<polyline points="204,601.9 203.7,601.9 214.4,599.2 224.5,603.5 234.7,604.5 243.5,601.3 253.3,592 262.1,581.3 272.3,576.8 282.1,576.8 291.2,579.2 301.1,579.2 309.9,572.5 320,568.8 329.9,567.5 338.7,568.8 348.8,565.3 357.9,565.3 367.7,565.6 377.9,564.8 386.7,564.8 396.8,564.8 405.3,565.3 415.5,555.5 425.6,558.1 434.4,557.3 444.3,553.3 454.4,547.5 463.5,547.5 473.3,547.2 482.1,547.2 492.3,547.5 500.7,548 510.5,548 520.1,550.7 529.7,551.2 539.3,560 548.9,562.9 558.5,561.9 567.9,564 577.5,564.8 587.1,564 596.7,563.5 606.3,562.9 615.9,554.7 625.2,546.7 634.8,547.5 644.4,552 654,554.1 663.6,559.2 673.1,582.7 682.7,617.3 692.3,646.7 701.9,670.7 711.2,690.7 720.8,701.9 730.4,708.5 740,716 749.6,725.9 759.2,728 768.8,728.8 778.4,728.8 788,726.7 797.3,720.5 806.9,718.9 816.5,724 826.1,729.9 835.7,735.5 845.3,738.7 854.9,743.5 863.5,745.3 873.9,733.3 884,720.8 893.3,697.3 902.7,673.3 912,655.2 921.6,640 931.2,617.3 940.7,586.7 950.3,573.9 959.6,570.1 969.2,563.5 978.8,556.5 988.4,558.1 998,590.7 1007.6,623.5 1017.2,648.8 1026.5,664 1036.1,671.5 1045.7,675.5 1055.3,677.3 1064.9,682.7 1074.5,687.2 1084.1,688.8 1093.5,687.5 1103.1,684 1112.7,684 1122.3,681.9 1131.9,673.3 1141.5,669.3 1150.8,669.3 1160.4,669.3 1170,663.2 1179.6,663.2 1189.2,671.2 1198.5,665.3 1209.3,653.9 1218.4,652.8 1228.3,652.8 1237.3,652.3 1247.2,652.5 1257.3,652.8 1266.1,663.5 1276,665.3 1285.1,670.9 1294.9,671.2 1304.8,671.2 1313.9,671.5 1324,672 1332.8,674.1 1342.7,674.1 1352.8,677.3 1361.6,680.5 1371.5,680.5 1390.7,674.5 1400.4,675 1409.9,675 1419.6,675 1429,678.7 1438.7,681.2 1448.2,685.7 1457.7,682 1467.4,687.4 1476.8,682.5 1486.5,681 1496,682.2 1505.7,681.7 1515.1,682.2 1524.6,678.7 1534.3,675.2 1543.8,671.3 1553.5,655.1 1562.9,646.4 1572.6,637.2 1582.1,629.7 1591.8,612.3 1601.3,598.6 1609.2,584.4" fill="none" stroke="#2962ff" stroke-width="1.45" stroke-linejoin="round"/>
<path d="M1341.3,639.8 L1637.6,337.3 M1341.3,713 L1637.6,410.1" stroke="#0f45d6" stroke-width="3.8" stroke-linecap="round" fill="none"/>
<path d="M1341.3,676.4 L1637.6,373.7" stroke="#2962ff" stroke-width="1.5" stroke-dasharray="8.5 8" stroke-dashoffset="3" fill="none"/>
<path d="M205.2,445.3 V494.7 M233.8,529.9 V568 M253,496 V540.8 M262.5,508 V535.5 M272.1,478.1 V535.5 M281.6,456.3 V489.9 M291.2,440.8 V473.3 M300.8,418.7 V464 M319.9,417.3 V469.9 M329.5,409.3 V439.2 M339,392.5 V418.7 M367.7,404 V441.3 M396.4,457.3 V502.7 M434.6,537.9 V577.3 M444.2,490.7 V538.1 M453.8,471.2 V496.8 M472.9,444.5 V493.3 M482.4,438.1 V472 M549.4,516.8 V552.5 M558.9,508.5 V549.9 M578.1,490.7 V530.7 M587.6,488.8 V520 M597.2,475.5 V497.9 M606.8,448.5 V520 M616.3,436 V476 M654.6,502.1 V541.9 M692.8,645.3 V711.5 M711.9,669.3 V732.5 M721.5,639.5 V686.7 M731.1,608.8 V652 M740.6,601.3 V646.1 M759.7,574.1 V648.8 M769.3,559.2 V590.1 M788.4,548 V582.7 M798,525.2 V561.5 M807.6,419.3 V498.5 M817.1,424.1 V462.5 M836.2,438 V460.7 M855.4,428.1 V467.3 M864.9,398 V434.5 M884.1,402 V426 M903.2,426 V454 M931.9,485.2 V516.7 M941.4,464.7 V511.9 M970.1,540.7 V562 M979.7,510 V565.2 M1017.9,642.7 V739.5 M1027.5,605.3 V664.5 M1037,570.1 V618.1 M1046.6,564 V610.7 M1084.9,603.2 V647.2 M1104,569.3 V632.8 M1132.7,584 V619.2 M1142.2,558.1 V598.7 M1151.8,540 V569.3 M1170.9,567.5 V596.8 M1199.6,607.5 V672.5 M1209.2,585.3 V625.3 M1237.8,564 V605.3 M1276.1,626.7 V676.8 M1295.2,602.7 V661.3 M1304.8,586.1 V620 M1323.9,572.5 V609.3 M1371.7,627.5 V680 M1381.3,611.2 V643.2 M1390.8,602.1 V631.5 M1410,581.3 V624.5 M1429.1,550.1 V600.8 M1448.2,530.7 V566.7 M1457.8,509.3 V535.5 M1467.3,484.5 V520.8 M1496,509.3 V548.8 M1515.1,503.5 V535.5 M1524.7,481.3 V513.3 M1534.3,444.8 V496.8 M1543.8,430.1 V460.8 M1563,416 V449.9 M1572.5,413.3 V444.8 M1582.1,388 V424" stroke="#10a08c" stroke-width="1.3" fill="none"/>
<path d="M214.7,441.3 V505.3 M224.3,494.7 V565.3 M243.4,519.2 V554.7 M310.3,403.2 V457.3 M348.6,400.8 V439.2 M358.1,418.7 V446.7 M377.3,401.9 V461.3 M386.8,438.7 V486.1 M406,448.5 V512.5 M415.5,495.5 V527.5 M425.1,479.2 V565.3 M463.3,465.9 V506.7 M492,449.3 V486.1 M501.6,456.8 V490.7 M511.1,451.5 V479.2 M520.7,480.5 V530.7 M530.3,488 V519.2 M539.8,512 V553.9 M568.5,504.8 V538.7 M625.9,430.7 V498.7 M635.4,488 V517.3 M645,483.5 V530.7 M664.1,497.3 V587.5 M673.7,542.7 V615.2 M683.2,585.3 V712.5 M702.4,636.8 V713.3 M750.2,625.3 V688.5 M778.9,552.5 V580 M826.7,433.5 V460.7 M845.8,438.8 V463.3 M874.5,398.5 V419.9 M893.6,409.2 V445.2 M912.7,438 V481.5 M922.3,475.3 V512.7 M951,466.5 V516.7 M960.5,492.7 V562.5 M989.2,515.9 V554 M998.8,525.5 V612.7 M1008.4,606.1 V674.7 M1056.2,562.7 V598.7 M1065.7,567.5 V620.8 M1075.3,602.7 V636.5 M1094.4,601.3 V625.9 M1113.5,574.1 V600.8 M1123.1,562.1 V608 M1161.3,544 V608.8 M1180.5,558.1 V644 M1190,632 V681.9 M1218.7,526.7 V593.3 M1228.3,582.1 V622.7 M1247.4,563.2 V641.9 M1257,588.8 V621.3 M1266.5,618.1 V685.3 M1285.7,612.8 V658.7 M1314.3,580 V628.8 M1333.5,573.3 V643.2 M1343,629.9 V674.7 M1352.6,620.8 V646.7 M1362.2,621.3 V669.9 M1400.4,588 V628.8 M1419.5,578.7 V618.7 M1438.6,544.5 V572.8 M1476.9,484 V524.8 M1486.5,506.7 V549.9 M1505.6,488.8 V525.9 M1553.4,432.8 V455.5 M1591.6,383.2 V415.2 M1601.2,379.5 V444.8 M1610.8,432.8 V434.1" stroke="#f43a48" stroke-width="1.3" fill="none"/>
<g fill="#10a08c"><rect x="202" y="449.9" width="6.4" height="32.8"/><rect x="230.6" y="549.3" width="6.4" height="6.1"/><rect x="249.8" y="525.3" width="6.4" height="15.5"/><rect x="259.3" y="520.5" width="6.4" height="10.9"/><rect x="268.9" y="479.2" width="6.4" height="55.5"/><rect x="278.4" y="465.9" width="6.4" height="13.3"/><rect x="288" y="442.7" width="6.4" height="28"/><rect x="297.6" y="440.8" width="6.4" height="6.7"/><rect x="316.7" y="431.2" width="6.4" height="27.5"/><rect x="326.3" y="414.1" width="6.4" height="11.7"/><rect x="335.8" y="405.3" width="6.4" height="8"/><rect x="364.5" y="424.5" width="6.4" height="9.6"/><rect x="393.2" y="462.1" width="6.4" height="21.3"/><rect x="431.4" y="543.5" width="6.4" height="14.7"/><rect x="441" y="495.5" width="6.4" height="42.7"/><rect x="450.6" y="472.5" width="6.4" height="18.7"/><rect x="469.7" y="453.3" width="6.4" height="34.7"/><rect x="479.2" y="444.5" width="6.4" height="14.9"/><rect x="546.2" y="526.1" width="6.4" height="26.4"/><rect x="555.7" y="513.3" width="6.4" height="8.5"/><rect x="574.9" y="505.3" width="6.4" height="22.1"/><rect x="584.4" y="492" width="6.4" height="22.7"/><rect x="594" y="480.5" width="6.4" height="12.8"/><rect x="603.6" y="451.2" width="6.4" height="36.3"/><rect x="613.1" y="437.9" width="6.4" height="16"/><rect x="651.4" y="507.5" width="6.4" height="21.1"/><rect x="689.6" y="660.8" width="6.4" height="4.5"/><rect x="708.7" y="670.1" width="6.4" height="19.2"/><rect x="718.3" y="639.5" width="6.4" height="31.2"/><rect x="727.9" y="617.3" width="6.4" height="26.7"/><rect x="737.4" y="631.7" width="6.4" height="2.1"/><rect x="756.5" y="579.2" width="6.4" height="57.3"/><rect x="766.1" y="571.2" width="6.4" height="10.7"/><rect x="785.2" y="550.7" width="6.4" height="28.5"/><rect x="794.8" y="526" width="6.4" height="25.9"/><rect x="804.4" y="446.5" width="6.4" height="52"/><rect x="813.9" y="442.5" width="6.4" height="9.3"/><rect x="833" y="444.7" width="6.4" height="2.1"/><rect x="852.2" y="429.2" width="6.4" height="23.5"/><rect x="861.7" y="402.8" width="6.4" height="30.4"/><rect x="880.9" y="411.9" width="6.4" height="3.5"/><rect x="900" y="437.5" width="6.4" height="1.9"/><rect x="928.7" y="490.5" width="6.4" height="18.7"/><rect x="938.2" y="472.1" width="6.4" height="19.2"/><rect x="966.9" y="550.8" width="6.4" height="8"/><rect x="976.5" y="511.9" width="6.4" height="38.1"/><rect x="1014.7" y="664.8" width="6.4" height="9.9"/><rect x="1024.3" y="612.8" width="6.4" height="49.9"/><rect x="1033.8" y="577.3" width="6.4" height="32.5"/><rect x="1043.4" y="565.9" width="6.4" height="16.8"/><rect x="1081.7" y="614.1" width="6.4" height="20.5"/><rect x="1100.8" y="576" width="6.4" height="48"/><rect x="1129.5" y="592.5" width="6.4" height="4.3"/><rect x="1139" y="574.1" width="6.4" height="17.9"/><rect x="1148.6" y="545.3" width="6.4" height="13.3"/><rect x="1167.7" y="574.1" width="6.4" height="17.1"/><rect x="1196.4" y="625.3" width="6.4" height="46.7"/><rect x="1206" y="592.8" width="6.4" height="32"/><rect x="1234.6" y="577.3" width="6.4" height="19.5"/><rect x="1272.9" y="634.1" width="6.4" height="41.9"/><rect x="1292" y="608.8" width="6.4" height="38.7"/><rect x="1301.6" y="587.5" width="6.4" height="21.9"/><rect x="1320.7" y="575.2" width="6.4" height="33.3"/><rect x="1368.5" y="630.7" width="6.4" height="30.7"/><rect x="1378.1" y="624.8" width="6.4" height="13.9"/><rect x="1387.6" y="609.9" width="6.4" height="16.8"/><rect x="1406.8" y="588" width="6.4" height="32.8"/><rect x="1425.9" y="550.1" width="6.4" height="39.2"/><rect x="1445" y="532.8" width="6.4" height="31.2"/><rect x="1454.6" y="516" width="6.4" height="16.8"/><rect x="1464.1" y="492" width="6.4" height="22.7"/><rect x="1492.8" y="512.5" width="6.4" height="32.8"/><rect x="1511.9" y="514.1" width="6.4" height="5.9"/><rect x="1521.5" y="484.8" width="6.4" height="28.5"/><rect x="1531.1" y="452" width="6.4" height="35.5"/><rect x="1540.6" y="433.9" width="6.4" height="16.8"/><rect x="1559.8" y="425.3" width="6.4" height="24"/><rect x="1569.3" y="416" width="6.4" height="14.7"/><rect x="1578.9" y="391.5" width="6.4" height="22.7"/></g>
<g fill="#f43a48"><rect x="211.5" y="457.3" width="6.4" height="44"/><rect x="221.1" y="494.7" width="6.4" height="69.3"/><rect x="240.2" y="543.5" width="6.4" height="2.4"/><rect x="307.1" y="430.7" width="6.4" height="17.9"/><rect x="345.4" y="403.2" width="6.4" height="30.1"/><rect x="354.9" y="433.3" width="6.4" height="2.7"/><rect x="374.1" y="423.5" width="6.4" height="28"/><rect x="383.6" y="440.8" width="6.4" height="43.2"/><rect x="402.8" y="458.1" width="6.4" height="50.4"/><rect x="412.3" y="500.5" width="6.4" height="14.7"/><rect x="421.9" y="511.2" width="6.4" height="50.7"/><rect x="460.1" y="474.7" width="6.4" height="8.8"/><rect x="488.8" y="456.3" width="6.4" height="5.3"/><rect x="498.4" y="464.3" width="6.4" height="2.1"/><rect x="507.9" y="458.1" width="6.4" height="11.7"/><rect x="517.5" y="480.5" width="6.4" height="29.6"/><rect x="527.1" y="510.1" width="6.4" height="2.7"/><rect x="536.6" y="513.9" width="6.4" height="38.1"/><rect x="565.3" y="507.2" width="6.4" height="21.6"/><rect x="622.7" y="437.3" width="6.4" height="52.5"/><rect x="632.2" y="494.7" width="6.4" height="12.8"/><rect x="641.8" y="508.5" width="6.4" height="16.8"/><rect x="660.9" y="506.7" width="6.4" height="36"/><rect x="670.5" y="544" width="6.4" height="62.1"/><rect x="680" y="600" width="6.4" height="77.9"/><rect x="699.2" y="662.7" width="6.4" height="24.8"/><rect x="747" y="641.3" width="6.4" height="4.8"/><rect x="775.7" y="563.2" width="6.4" height="14.7"/><rect x="823.5" y="440.9" width="6.4" height="4.3"/><rect x="842.6" y="447.3" width="6.4" height="15.2"/><rect x="871.3" y="406" width="6.4" height="13.9"/><rect x="890.4" y="411.9" width="6.4" height="27.5"/><rect x="909.5" y="438" width="6.4" height="32.8"/><rect x="919.1" y="477.2" width="6.4" height="29.3"/><rect x="947.8" y="474" width="6.4" height="34.7"/><rect x="957.3" y="506" width="6.4" height="52.8"/><rect x="986" y="515.9" width="6.4" height="18.1"/><rect x="995.6" y="533.2" width="6.4" height="76.8"/><rect x="1005.2" y="610.7" width="6.4" height="53.9"/><rect x="1053" y="568.5" width="6.4" height="18.1"/><rect x="1062.5" y="580" width="6.4" height="38.1"/><rect x="1072.1" y="607.2" width="6.4" height="29.3"/><rect x="1091.2" y="609.3" width="6.4" height="9.9"/><rect x="1110.3" y="577.3" width="6.4" height="16.8"/><rect x="1119.9" y="592" width="6.4" height="8"/><rect x="1158.1" y="548" width="6.4" height="43.5"/><rect x="1177.3" y="565.9" width="6.4" height="70.7"/><rect x="1186.8" y="633.9" width="6.4" height="29.6"/><rect x="1215.5" y="532.8" width="6.4" height="53.1"/><rect x="1225.1" y="588.8" width="6.4" height="5.3"/><rect x="1244.2" y="579.2" width="6.4" height="20.8"/><rect x="1253.8" y="606.1" width="6.4" height="14.7"/><rect x="1263.3" y="618.7" width="6.4" height="61.3"/><rect x="1282.5" y="636" width="6.4" height="20"/><rect x="1311.1" y="592.5" width="6.4" height="10.1"/><rect x="1330.3" y="577.9" width="6.4" height="55.5"/><rect x="1339.8" y="631.5" width="6.4" height="8.5"/><rect x="1349.4" y="627.2" width="6.4" height="8.3"/><rect x="1359" y="633.3" width="6.4" height="35.2"/><rect x="1397.2" y="613.9" width="6.4" height="14.1"/><rect x="1416.3" y="588.5" width="6.4" height="2.1"/><rect x="1435.4" y="551.2" width="6.4" height="16"/><rect x="1473.7" y="486.1" width="6.4" height="33.3"/><rect x="1483.3" y="528" width="6.4" height="17.3"/><rect x="1502.4" y="511.5" width="6.4" height="9.9"/><rect x="1550.2" y="440" width="6.4" height="12"/><rect x="1588.4" y="392.5" width="6.4" height="8"/><rect x="1598" y="387.2" width="6.4" height="50.1"/><rect x="1607.6" y="432.8" width="6.4" height="1.4"/></g>
<ellipse cx="1610.4" cy="810" rx="21.2" ry="16.2" fill="#fff"/>
<ellipse cx="1610.4" cy="810" rx="18.7" ry="13.8" fill="#fff" stroke="#a31ab5" stroke-width="2.3"/>
<path d="M1617.2,802.9 L1601.5,810.9 L1611.1,811.2 L1604.1,818 L1619.6,809.2 L1609.7,809.1 Z" fill="#a31ab5" stroke="#a31ab5" stroke-width="0.6" stroke-linejoin="round"/>
</g>
<text class="c" x="219.50" y="296.2" font-size="15.4" fill="#131722" stroke="#131722" stroke-width="0.35" textLength="441.50" lengthAdjust="spacingAndGlyphs">CRUDE OIL FUTURES (SEP 2023), 1D, NYMEX</text>
<text class="c" x="675.10" y="296.2" font-size="15.4" fill="#131722" stroke="#131722" stroke-width="0.35" textLength="13.50" lengthAdjust="spacingAndGlyphs">O</text>
<text class="c" x="759.60" y="296.2" font-size="15.4" fill="#131722" stroke="#131722" stroke-width="0.35" textLength="13.50" lengthAdjust="spacingAndGlyphs">H</text>
<text class="c" x="844.40" y="296.2" font-size="15.4" fill="#131722" stroke="#131722" stroke-width="0.35" textLength="10.20" lengthAdjust="spacingAndGlyphs">L</text>
<text class="c" x="924.30" y="296.2" font-size="15.4" fill="#131722" stroke="#131722" stroke-width="0.35" textLength="12.10" lengthAdjust="spacingAndGlyphs">C</text>
<text class="c" x="690.80" y="296.2" font-size="15.4" fill="#f23645" stroke="#f23645" stroke-width="0.35" textLength="54.00" lengthAdjust="spacingAndGlyphs">79.77</text>
<text class="c" x="775.00" y="296.2" font-size="15.4" fill="#f23645" stroke="#f23645" stroke-width="0.35" textLength="54.00" lengthAdjust="spacingAndGlyphs">79.77</text>
<text class="c" x="856.00" y="296.2" font-size="15.4" fill="#f23645" stroke="#f23645" stroke-width="0.35" textLength="53.40" lengthAdjust="spacingAndGlyphs">79.62</text>
<text class="c" x="938.30" y="296.2" font-size="15.4" fill="#f23645" stroke="#f23645" stroke-width="0.35" textLength="54.80" lengthAdjust="spacingAndGlyphs">79.70</text>
<text class="c" x="1007.70" y="296.2" font-size="15.4" fill="#f23645" stroke="#f23645" stroke-width="0.35" textLength="52.10" lengthAdjust="spacingAndGlyphs">+0.21</text>
<text class="c" x="1071.20" y="296.2" font-size="15.4" fill="#f23645" stroke="#f23645" stroke-width="0.35" textLength="83.10" lengthAdjust="spacingAndGlyphs">(+0.26%)</text>
<text class="c" x="219.50" y="320.6" font-size="15.4" fill="#131722" stroke="#131722" stroke-width="0.35" textLength="191.80" lengthAdjust="spacingAndGlyphs">BB (20, close, 2, 0)</text>
<text class="c" x="426.30" y="320.6" font-size="15.4" fill="#ff6d00" stroke="#ff6d00" stroke-width="0.35" textLength="55.00" lengthAdjust="spacingAndGlyphs">77.35</text>
<text class="c" x="495.30" y="320.6" font-size="15.4" fill="#2962ff" stroke="#2962ff" stroke-width="0.35" textLength="55.00" lengthAdjust="spacingAndGlyphs">82.66</text>
<text class="c" x="564.60" y="320.6" font-size="15.4" fill="#2962ff" stroke="#2962ff" stroke-width="0.35" textLength="54.50" lengthAdjust="spacingAndGlyphs">72.03</text>
<text class="c" x="219.50" y="345.7" font-size="15.4" fill="#131722" stroke="#131722" stroke-width="0.35" textLength="29.70" lengthAdjust="spacingAndGlyphs">Vol</text>
<text class="c" x="263.20" y="345.7" font-size="15.4" fill="#f23645" stroke="#f23645" stroke-width="0.35" textLength="35.00" lengthAdjust="spacingAndGlyphs">928</text>
<g clip-path="url(#cpr)">
<rect x="204" y="839" width="1507.5" height="56.6" fill="#7e57c2" fill-opacity="0.1"/>
<path d="M192.3,838.8 H1712 M192.3,895.6 H1712" stroke="#5f626d" stroke-width="1" stroke-dasharray="6.3 7.5" fill="none"/>
<path d="M192.3,867.8 H1712" stroke="#787b86" stroke-opacity="0.4" stroke-width="1" stroke-dasharray="6.3 7.5" fill="none"/>
<polyline points="204,867.8 204.7,867.8 223.8,867.8 243.1,868.2 262.1,867.3 281.2,865.5 300.3,863.7 319.6,862.4 338.6,861.4 357.7,859.2 377,857 396.1,857 405.6,858.3 424.7,861.9 443.8,864.6 463,866.9 482.1,868.2 501.2,868.7 520.3,869.6 539.5,870.5 545,870.5 568.2,869.1 587.3,868.7 606.4,868.4 625.6,868.7 644.7,870 663.8,870.4 673.3,870.9 692.6,873.6 711.7,876.8 730.8,879.5 750,883 759.6,883.5 778.6,882.6 797.7,880.4 807.4,878.1 826.5,870 845.6,863.7 864.7,858.3 883.9,852.9 894.2,851.6 912.5,850.2 931.7,851.6 950.8,854.7 969.9,859.2 989.1,862.8 1008.2,868.7 1027.3,874.5 1046.6,877.2 1065.6,878.1 1084.7,879.9 1104,879 1123.1,879 1142.1,876.3 1151.7,874 1170.9,872.7 1190,874 1209.1,872.3 1228.4,871.3 1244.2,870.5 1266.4,871.8 1285.5,873.1 1304.8,872.7 1323.8,870.5 1342.9,871.3 1362.2,872.2 1381.3,871.8 1400.3,870 1419.6,868.2 1438.7,867.3 1457.8,865 1477,861.9 1496.1,858.8 1515.2,857 1534.3,853.8 1553.5,851.6 1572.6,849.3 1582.1,848 1591.7,847.5 1601.2,847.9 1610.4,848" fill="none" stroke="#fbe119" stroke-width="1.45" stroke-linejoin="round"/>
<polyline points="205.2,856 214.7,867.8 224.3,879 233.8,876.3 243.4,874.9 253,870.5 262.5,869.1 272.1,860.6 281.6,857.4 291.2,853.3 300.8,853.3 310.3,853.8 319.9,850.2 329.5,847.5 339,846.2 348.6,853.8 358.1,857 367.7,853.8 377.3,861.9 386.8,871.3 396.4,865.5 406,876.3 415.5,878.1 425.1,886.7 434.6,881.7 444.2,868.7 453.8,863.7 463.3,866 472.9,860.1 482.4,858.3 492,862.3 501.6,864.1 511.1,865 520.7,874.9 530.3,875.8 539.8,883.9 549.4,875.4 558.9,872.3 568.5,876.3 578.1,870 587.6,866.4 597.2,863.3 606.8,857.4 616.3,853.8 625.9,867.7 635.4,871.8 645,875.8 654.6,871.4 664.1,878.5 673.7,888 683.2,898.3 692.8,893.9 702.4,896.6 711.9,892.5 721.5,884.8 731.1,879.5 740.6,880.8 750.2,883.5 759.7,868.7 769.3,867.3 778.9,868.2 788.4,863.2 798,858.3 807.6,846.1 817.1,845.7 826.7,846.2 836.2,850.6 845.8,845.3 855.4,841.6 864.9,846.1 874.5,845.2 884.1,852.9 893.6,853.3 903.2,853.3 912.7,861.9 922.3,870 931.9,866.4 941.4,862.8 951,871.8 960.5,880.4 970.1,879 979.7,869.1 989.2,874 998.8,886.6 1008.4,893 1017.9,893.4 1027.5,880.8 1037,873.6 1046.6,871.4 1056.2,875.4 1065.7,879.9 1075.3,883 1084.9,877.7 1094.4,878.5 1104,868.7 1113.5,872.2 1123.1,873.6 1132.7,871.8 1142.2,868.2 1151.8,861.5 1161.3,871.3 1170.9,867.8 1180.5,879 1190,883.5 1199.6,874.5 1209.2,868.6 1218.7,866.9 1228.3,868.2 1237.8,865 1247.4,869.1 1257,872.7 1266.5,884 1276.1,874 1285.7,877.6 1295.2,868.2 1304.8,864.2 1314.3,867.3 1323.9,862.4 1333.5,872.3 1343,873.6 1352.6,872.7 1362.2,878.5 1371.7,870.5 1381.3,869.1 1390.8,866.4 1400.4,869.5 1410,862.3 1419.5,862.4 1429.1,854.7 1438.6,858.7 1448.2,852.5 1457.8,849.7 1467.3,846.1 1476.9,852.9 1486.5,859.2 1496,853.8 1505.6,856 1515.1,854.3 1524.7,849.3 1534.3,844.3 1543.8,841.6 1553.4,846.2 1563,842.5 1572.5,840.8 1582.1,837.6 1591.6,839.9 1601.2,852 1610.8,851.6" fill="none" stroke="#7e57c2" stroke-width="1.45" stroke-linejoin="round"/>
</g>
<text class="c" x="219.70" y="857.5" font-size="16" fill="#131722" stroke="#131722" stroke-width="0.35" textLength="263.30" lengthAdjust="spacingAndGlyphs">RSI (14, close, SMA, 14, 2)</text>
<text class="c" x="498.80" y="857.5" font-size="16" fill="#7e57c2" stroke="#7e57c2" stroke-width="0.35" textLength="54.40" lengthAdjust="spacingAndGlyphs">61.15</text>
<text class="c" x="567.50" y="857.5" font-size="16" fill="#ffeb0a" stroke="#ffeb0a" stroke-width="0.8" textLength="53.50" lengthAdjust="spacingAndGlyphs">63.51</text>
<text class="c" x="637.00" y="857.5" font-size="15" fill="#50535e" stroke="#50535e" stroke-width="0.35" textLength="13.00" lengthAdjust="spacingAndGlyphs">∅</text>
<text class="c" x="666.00" y="857.5" font-size="15" fill="#50535e" stroke="#50535e" stroke-width="0.35" textLength="13.00" lengthAdjust="spacingAndGlyphs">∅</text>
<g clip-path="url(#cps)">
<rect x="204" y="925.3" width="1507.5" height="33.8" fill="#2196f3" fill-opacity="0.12"/>
<path d="M192.3,925.3 H1712 M192.3,959.2 H1712" stroke="#5f626d" stroke-width="1" stroke-dasharray="6.3 7.5" fill="none"/>
<path d="M192.3,941.8 H1712" stroke="#787b86" stroke-opacity="0.4" stroke-width="1" stroke-dasharray="6.3 7.5" fill="none"/>
<polyline points="205.2,916.4 214.7,936.6 224.3,967.2 233.8,961.4 243.4,959.1 253,951 262.5,948.8 272.1,933 281.6,923.6 291.2,914.1 300.8,922.2 310.3,926.7 319.9,922.2 329.5,917.3 339,917.7 348.6,926.7 358.1,927.6 367.7,925.8 377.3,937.5 386.8,949.2 396.4,942 406,968.1 415.5,964.5 425.1,968.6 434.6,959.1 444.2,944.7 453.8,938 463.3,940.2 472.9,931.2 482.4,927.2 492,932.5 501.6,933.9 511.1,929.4 520.7,942.5 530.3,943.4 539.8,959.5 549.4,950.1 558.9,943.8 568.5,957.3 578.1,947 587.6,940.2 597.2,934.4 606.8,920 616.3,914.6 625.9,940.7 635.4,948.8 645,957.3 654.6,949.2 664.1,953.7 673.7,967.2 683.2,963.6 692.8,959.5 702.4,964.9 711.9,959.1 721.5,953.2 731.1,948.7 740.6,950.6 750.2,953.7 759.7,935.7 769.3,933.9 778.9,933 788.4,926.7 798,913.7 807.6,918.2 817.1,918.2 826.7,918.2 836.2,922.2 845.8,915.5 855.4,914.5 864.9,917.7 874.5,916.8 884.1,925.4 893.6,925.8 903.2,925.8 912.7,935.7 922.3,950.1 931.9,957.7 941.4,948.8 951,965.8 960.5,968.5 970.1,966.3 979.7,952.4 989.2,959.1 998.8,969 1008.4,968.1 1017.9,958.2 1027.5,947.9 1037,940.2 1046.6,934.4 1056.2,938.4 1065.7,944.7 1075.3,948.3 1084.9,941.6 1094.4,940.7 1104,929.9 1113.5,933.4 1123.1,933 1132.7,923.1 1142.2,919 1151.8,916.8 1161.3,940.2 1170.9,932.5 1180.5,964.1 1190,962.7 1199.6,948.3 1209.2,934.8 1218.7,935.2 1228.3,937.5 1237.8,932.5 1247.4,939.3 1257,947.4 1266.5,967.7 1276.1,952.3 1285.7,959.5 1295.2,942.9 1304.8,935.3 1314.3,940.2 1323.9,931.6 1333.5,951 1343,953.3 1352.6,946.9 1362.2,961.4 1371.7,944.3 1381.3,939.7 1390.8,932.6 1400.4,942.9 1410,922.2 1419.5,923.1 1429.1,914.1 1438.6,922.7 1448.2,914.5 1457.8,915.5 1467.3,915.5 1476.9,924.5 1486.5,931.2 1496,922.2 1505.6,926.3 1515.1,924.5 1524.7,915 1534.3,916.3 1543.8,915 1553.4,920.9 1563,917.2 1572.5,914.5 1582.1,915 1591.6,919 1601.2,933 1610.8,932.5" fill="none" stroke="#2962ff" stroke-width="1.45" stroke-linejoin="round"/>
<polyline points="205.2,923.1 214.7,928.5 224.3,941.1 233.8,957.3 243.4,962.7 253,957.3 262.5,952.8 272.1,944.3 281.6,935.2 291.2,923.6 300.8,920 310.3,921.3 319.9,924 329.5,922.2 339,919 348.6,920.4 358.1,924 367.7,926.7 377.3,930.3 386.8,937.5 396.4,942.9 406,952.8 415.5,958.2 425.1,967.2 434.6,964.1 444.2,957.7 453.8,947.4 463.3,941.1 472.9,936.6 482.4,933 492,930.3 501.6,931.2 511.1,932.1 520.7,935.3 530.3,938.4 539.8,948.7 549.4,950.5 558.9,950.5 568.5,949.6 578.1,948.8 587.6,947.8 597.2,940.6 606.8,931.6 616.3,923.1 625.9,924.9 635.4,934.4 645,948.8 654.6,951.9 664.1,953.7 673.7,957.3 683.2,961.4 692.8,963.6 702.4,962.7 711.9,960.9 721.5,959.1 731.1,953.3 740.6,951 750.2,951 759.7,946.9 769.3,941.1 778.9,934.3 788.4,931.2 798,924.5 807.6,919.9 817.1,917.2 826.7,918.1 836.2,919.5 845.8,918.6 855.4,917.3 864.9,915.9 874.5,916.3 884.1,919.9 893.6,922.2 903.2,923.1 912.7,929.4 922.3,937.5 931.9,947.9 941.4,952.4 951,957.7 960.5,961.3 970.1,966.8 979.7,962.3 989.2,959.1 998.8,960.4 1008.4,965.4 1017.9,965 1027.5,958.2 1037,948.8 1046.6,940.7 1056.2,937.5 1065.7,939.3 1075.3,943.8 1084.9,945.1 1094.4,943.4 1104,937.5 1113.5,934.4 1123.1,932.1 1132.7,929.8 1142.2,924.9 1151.8,919.5 1161.3,925.3 1170.9,929.8 1180.5,945.6 1190,953.2 1199.6,958.6 1209.2,948.7 1218.7,939.3 1228.3,935.7 1237.8,934.8 1247.4,937 1257,940.2 1266.5,951.9 1276.1,955.5 1285.7,960 1295.2,951.5 1304.8,946 1314.3,940.2 1323.9,935.7 1333.5,940.7 1343,945.2 1352.6,950.5 1362.2,954.1 1371.7,951 1381.3,948.7 1390.8,939.3 1400.4,938 1410,932.6 1419.5,928.9 1429.1,919.9 1438.6,919.5 1448.2,917.2 1457.8,917.7 1467.3,915.5 1476.9,919 1486.5,923.1 1496,925.8 1505.6,927.1 1515.1,924.5 1524.7,922.2 1534.3,919.1 1543.8,915.9 1553.4,917.7 1563,917.7 1572.5,917.3 1582.1,915.5 1591.6,916.3 1601.2,922.2 1610.8,925.4" fill="none" stroke="#ff6d00" stroke-width="1.45" stroke-linejoin="round"/>
</g>
<text class="c" x="218.60" y="933.9" font-size="16" fill="#131722" stroke="#131722" stroke-width="0.35" textLength="154.60" lengthAdjust="spacingAndGlyphs">Stoch (14, 1, 3)</text>
<text class="c" x="390.30" y="933.9" font-size="16" fill="#2962ff" stroke="#2962ff" stroke-width="0.35" textLength="54.00" lengthAdjust="spacingAndGlyphs">68.44</text>
<text class="c" x="460.50" y="933.9" font-size="16" fill="#ff6d00" stroke="#ff6d00" stroke-width="0.35" textLength="52.50" lengthAdjust="spacingAndGlyphs">74.79</text>
<g clip-path="url(#cpt)">
<text class="c" x="189.81" y="1002.6" font-size="14.6" fill="#131722" stroke="#131722" stroke-width="0.35" textLength="49.80" lengthAdjust="spacingAndGlyphs">2023</text>
<text class="c" x="388.20" y="1002.6" font-size="14.6" fill="#131722" stroke="#131722" stroke-width="0.35" textLength="35.50" lengthAdjust="spacingAndGlyphs">Feb</text>
<text class="c" x="569.23" y="1002.6" font-size="14.6" fill="#131722" stroke="#131722" stroke-width="0.35" textLength="36.80" lengthAdjust="spacingAndGlyphs">Mar</text>
<text class="c" x="790.41" y="1002.6" font-size="14.6" fill="#131722" stroke="#131722" stroke-width="0.35" textLength="34.30" lengthAdjust="spacingAndGlyphs">Apr</text>
<text class="c" x="969.53" y="1002.6" font-size="14.6" fill="#131722" stroke="#131722" stroke-width="0.35" textLength="39.40" lengthAdjust="spacingAndGlyphs">May</text>
<text class="c" x="1182.20" y="1002.6" font-size="14.6" fill="#131722" stroke="#131722" stroke-width="0.35" textLength="34.80" lengthAdjust="spacingAndGlyphs">Jun</text>
<text class="c" x="1385.80" y="1002.6" font-size="14.6" fill="#131722" stroke="#131722" stroke-width="0.35" textLength="29.20" lengthAdjust="spacingAndGlyphs">Jul</text>
<text class="c" x="1573.44" y="1002.6" font-size="14.6" fill="#131722" stroke="#131722" stroke-width="0.35" textLength="36.40" lengthAdjust="spacingAndGlyphs">Aug</text>
</g>
<rect x="1718.7" y="274.4" width="106" height="56.4" rx="6" fill="#fff" stroke="#e3e6ee" stroke-width="1.3"/>
<text class="c" x="1737.40" y="297.9" font-size="16.4" fill="#131722" stroke="#131722" stroke-width="0.35" textLength="39.00" lengthAdjust="spacingAndGlyphs">USD</text>
<text class="c" x="1737.40" y="320.2" font-size="16.4" fill="#131722" stroke="#131722" stroke-width="0.35" textLength="35.00" lengthAdjust="spacingAndGlyphs">BLL</text>
<g clip-path="url(#cpa)">
<text class="c" x="1727.30" y="631.5" font-size="15.7" fill="#131722" stroke="#131722" stroke-width="0.35" textLength="55.00" lengthAdjust="spacingAndGlyphs">70.00</text>
<text class="c" x="1727.30" y="681.1" font-size="15.7" fill="#131722" stroke="#131722" stroke-width="0.35" textLength="55.00" lengthAdjust="spacingAndGlyphs">67.50</text>
<text class="c" x="1727.30" y="730.7" font-size="15.7" fill="#131722" stroke="#131722" stroke-width="0.35" textLength="55.00" lengthAdjust="spacingAndGlyphs">65.00</text>
<text class="c" x="1727.30" y="780.3" font-size="15.7" fill="#131722" stroke="#131722" stroke-width="0.35" textLength="55.00" lengthAdjust="spacingAndGlyphs">62.50</text>
<text class="c" x="1727.30" y="829.9" font-size="15.7" fill="#131722" stroke="#131722" stroke-width="0.35" textLength="55.00" lengthAdjust="spacingAndGlyphs">60.00</text>
</g>
<text class="c" x="1727.30" y="886.9" font-size="15.7" fill="#131722" stroke="#131722" stroke-width="0.35" textLength="55.00" lengthAdjust="spacingAndGlyphs">40.00</text>
<g clip-path="url(#cps)">
<text class="c" x="1727.30" y="977.3" font-size="15.7" fill="#131722" stroke="#131722" stroke-width="0.35" textLength="42.60" lengthAdjust="spacingAndGlyphs">0.00</text>
</g>
<g>
<rect x="1711.5" y="337" width="81.3" height="25" rx="2.5" fill="#f5113f"/>
<text class="c" x="1727.00" y="355.4" font-size="15.5" fill="#fff" stroke="#fff" stroke-width="0.65" textLength="55.20" lengthAdjust="spacingAndGlyphs">83.37</text>
</g>
<g>
<rect x="1711.5" y="361.9" width="81.3" height="25.8" rx="2.5" fill="#2962ff"/>
<text class="c" x="1727.00" y="380.7" font-size="15.5" fill="#fff" stroke="#fff" stroke-width="0.65" textLength="55.20" lengthAdjust="spacingAndGlyphs">82.66</text>
</g>
<g>
<rect x="1711.5" y="387.6" width="81.3" height="25.7" rx="2.5" fill="#f5113f"/>
<text class="c" x="1727.00" y="406.4" font-size="15.5" fill="#fff" stroke="#fff" stroke-width="0.65" textLength="55.20" lengthAdjust="spacingAndGlyphs">81.34</text>
</g>
<rect x="1711.5" y="420.3" width="113.3" height="46.2" rx="3" fill="#f7444f"/>
<text class="c" x="1727.00" y="439.3" font-size="15.5" fill="#fff" stroke="#fff" stroke-width="0.65" textLength="55.20" lengthAdjust="spacingAndGlyphs">79.70</text>
<text class="c" x="1727.00" y="459.4" font-size="15.5" fill="#fde0e2" stroke="#fde0e2" stroke-width="0.65" textLength="86.50" lengthAdjust="spacingAndGlyphs">21:16:52</text>
<g>
<rect x="1711.5" y="466.5" width="81.3" height="25" rx="2.5" fill="#ffb300"/>
<text class="c" x="1727.00" y="484.9" font-size="15.5" fill="#131722" stroke="#131722" stroke-width="0.65" textLength="55.20" lengthAdjust="spacingAndGlyphs">79.12</text>
</g>
<g>
<rect x="1711.5" y="491.4" width="81.3" height="23.6" rx="2.5" fill="#0b8a2b"/>
<text class="c" x="1727.00" y="509.1" font-size="15.5" fill="#fff" stroke="#fff" stroke-width="0.65" textLength="55.20" lengthAdjust="spacingAndGlyphs">77.37</text>
</g>
<g>
<rect x="1711.5" y="514.9" width="81.3" height="25.8" rx="2.5" fill="#ff6500"/>
<text class="c" x="1727.00" y="533.7" font-size="15.5" fill="#fff" stroke="#fff" stroke-width="0.65" textLength="55.20" lengthAdjust="spacingAndGlyphs">77.35</text>
</g>
<g>
<rect x="1711.5" y="540.6" width="81.3" height="23.2" rx="2.5" fill="#0b8a2b"/>
<text class="c" x="1727.00" y="558.1" font-size="15.5" fill="#fff" stroke="#fff" stroke-width="0.65" textLength="55.20" lengthAdjust="spacingAndGlyphs">75.96</text>
</g>
<g>
<rect x="1711.5" y="563.7" width="81.3" height="24.1" rx="2.5" fill="#0b8a2b"/>
<text class="c" x="1727.00" y="581.6" font-size="15.5" fill="#fff" stroke="#fff" stroke-width="0.65" textLength="55.20" lengthAdjust="spacingAndGlyphs">73.18</text>
</g>
<g>
<rect x="1711.5" y="587.7" width="81.3" height="25.5" rx="2.5" fill="#2962ff"/>
<text class="c" x="1727.00" y="606.4" font-size="15.5" fill="#fff" stroke="#fff" stroke-width="0.65" textLength="55.20" lengthAdjust="spacingAndGlyphs">72.03</text>
</g>
<rect x="1711.5" y="804" width="60" height="25.2" rx="2.5" fill="#f7444f"/>
<text class="c" x="1726.80" y="822.7" font-size="15.5" fill="#fff" stroke="#fff" stroke-width="0.65" textLength="35.40" lengthAdjust="spacingAndGlyphs">928</text>
<g clip-path="url(#cpr)">
<rect x="1711.5" y="816.5" width="81.8" height="24.3" rx="2.5" fill="#ffeb0a"/>
<text class="c" x="1727.00" y="834.2" font-size="15.5" fill="#131722" stroke="#131722" stroke-width="0.65" textLength="55.20" lengthAdjust="spacingAndGlyphs">63.51</text>
</g>
<g>
<rect x="1711.5" y="840.8" width="81.8" height="23.7" rx="2.5" fill="#7e57c2"/>
<text class="c" x="1727.00" y="857.5" font-size="15.5" fill="#fff" stroke="#fff" stroke-width="0.65" textLength="55.20" lengthAdjust="spacingAndGlyphs">61.15</text>
</g>
<g clip-path="url(#cps)">
<rect x="1711.5" y="896.5" width="81.8" height="24" rx="2.5" fill="#ff6500"/>
<text class="c" x="1727.00" y="914.2" font-size="15.5" fill="#fff" stroke="#fff" stroke-width="0.65" textLength="55.20" lengthAdjust="spacingAndGlyphs">74.79</text>
</g>
<g>
<rect x="1711.5" y="920.5" width="81.8" height="24.4" rx="2.5" fill="#2962ff"/>
<text class="c" x="1727.00" y="937.9" font-size="15.5" fill="#fff" stroke="#fff" stroke-width="0.65" textLength="55.20" lengthAdjust="spacingAndGlyphs">68.44</text>
</g>
<text class="l" x="1305" y="1095.8" font-size="29" font-weight="bold" font-style="italic" fill="#fff" stroke="#fff" stroke-width="0.5" textLength="651" lengthAdjust="spacingAndGlyphs">Nguồn: Sở Giao dịch Hàng hóa Việt Nam (MXV)</text>
</svg>
</body>
</html>
